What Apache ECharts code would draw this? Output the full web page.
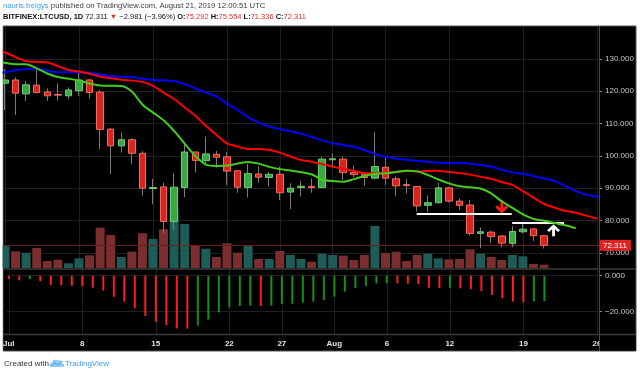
<!DOCTYPE html>
<html><head><meta charset="utf-8">
<script src="https://cdn.jsdelivr.net/npm/echarts@6/dist/echarts.min.js"></script>
<style>html,body{margin:0;padding:0;background:#fff}#c{width:640px;height:374px}</style>
</head><body><div id="c"></div><script>
// ---------- data ----------
const dates = ['2019-07-01','2019-07-02','2019-07-03','2019-07-04','2019-07-05','2019-07-06','2019-07-07','2019-07-08','2019-07-09','2019-07-10',
'2019-07-11','2019-07-12','2019-07-13','2019-07-14','2019-07-15','2019-07-16','2019-07-17','2019-07-18','2019-07-19','2019-07-20',
'2019-07-21','2019-07-22','2019-07-23','2019-07-24','2019-07-25','2019-07-26','2019-07-27','2019-07-28','2019-07-29','2019-07-30',
'2019-07-31','2019-08-01','2019-08-02','2019-08-03','2019-08-04','2019-08-05','2019-08-06','2019-08-07','2019-08-08','2019-08-09',
'2019-08-10','2019-08-11','2019-08-12','2019-08-13','2019-08-14','2019-08-15','2019-08-16','2019-08-17','2019-08-18','2019-08-19',
'2019-08-20','2019-08-21'];
const open = [122.5,123.5,119.2,121.9,119.8,119.0,118.6,120.2,123.5,119.7, 108.3,103.1,105.0,100.8,89.9,90.4,79.7,90.2,101.2,98.5, 100.5,99.7,95.4,90.2,94.4,93.3,94.3,88.8,90.2,90.6, 90.2,98.8,99.0,94.9,94.3,93.1,96.5,92.9,91.1,90.5, 84.7,85.5,90.1,86.0,84.8,76.0,76.4,75.2,72.9,76.5, 77.4,75.292];
const high = [126.8,124.3,123.3,126.6,120.9,122.5,121.2,125.8,123.9,120.4, 108.5,107.2,105.5,101.5,92.9,91.7,94.6,103.7,101.3,106.0, 101.5,101.1,95.5,97.5,96.8,95.0,96.7,91.5,92.2,93.0, 99.8,100.8,99.8,97.0,95.1,107.3,99.6,93.6,92.9,90.6, 87.8,91.7,90.3,86.8,86.4,77.8,76.8,75.5,78.3,79.1, 77.6,75.554];
const low = [114.2,112.7,117.0,119.4,117.0,117.1,117.6,118.5,117.7,102.1, 94.4,101.0,97.4,87.7,85.0,76.0,76.9,87.2,94.8,97.7, 96.4,91.0,88.6,87.1,91.7,90.5,86.3,83.5,87.4,88.6, 90.2,96.2,92.5,93.4,90.7,92.8,91.0,87.6,88.4,82.8, 82.6,85.3,85.6,83.3,75.4,71.4,73.0,71.7,71.7,76.0, 73.7,71.336];
const close = [123.5,119.4,122.0,119.6,118.6,118.8,120.4,123.5,119.6,108.2, 103.1,105.0,100.8,90.0,90.2,79.7,90.3,101.2,98.6,100.6, 99.6,95.3,90.3,94.5,93.4,94.3,88.6,90.0,90.6,90.2, 99.0,99.1,94.8,94.2,93.3,96.7,93.1,90.7,90.8,84.5, 85.5,90.1,86.0,84.7,76.0,76.5,75.0,73.0,76.6,77.3, 75.29,72.311];
const volume = [22.3,16.7,15.3,20.0,7.0,8.3,4.7,9.7,12.7,40.3, 33.0,11.0,16.3,34.7,29.0,38.7,59.0,44.0,22.7,19.3, 11.0,24.7,15.3,22.7,9.0,9.0,17.0,13.0,9.0,6.3, 14.3,13.0,12.3,8.0,13.0,42.0,15.0,16.3,7.0,13.0, 14.3,9.7,8.7,9.0,18.7,14.3,11.0,8.0,13.0,11.7, 4.0,3.3];
const macdHist = [-1.9,-2.6,-1.9,-3.1,-5.2,-5.4,-5.6,-5.9,-6.7,-8.3, -11.7,-14.4,-18.1,-22.4,-25.6,-27.4,-29.3,-29.4,-27.8,-24.4, -20.4,-17.6,-16.8,-16.6,-16.8,-16.6,-15.7,-15.6,-15.0,-14.4, -13.5,-11.7,-8.9,-6.9,-5.7,-4.3,-4.2,-4.3,-4.4,-4.6, -6.7,-6.9,-6.7,-7.0,-7.4,-8.5,-10.7,-12.6,-14.4,-14.8, -14.3,-14.1];
// Alligator lines (already shifted forward), daily values starting at lineStart
const lineStart = '2019-06-30';
const jaw = [125.4,125.9,126.5,126.9,127.0,126.4,125.9,125.9,125.9,125.7, 125.2,124.7,124.5,124.4,123.9,123.5,123.4,123.2,122.2,120.9, 119.6,118.4,116.2,114.2,112.0,110.3,109.1,108.3,107.6,106.9, 105.9,104.8,103.9,103.4,102.8,101.8,100.6,99.7,99.2,98.8, 98.5,98.2,97.9,97.7,97.9,97.6,97.2,96.7,95.7,94.9, 94.4,93.8,93.0,92.2,90.7,89.1,88.0,87.4,86.7];
const teeth = [133.4,132.0,130.6,129.3,129.1,128.9,127.8,126.6,126.1,125.4, 124.5,124.0,123.6,123.3,122.9,121.7,119.6,117.6,115.0,112.4, 109.3,106.5,103.9,102.9,102.1,102.1,101.8,101.0,99.8,98.7, 98.2,97.5,96.7,96.0,95.4,94.6,94.6,94.8,95.0,95.4, 95.2,95.3,95.4,95.0,94.7,94.2,93.5,92.9,91.9,91.0, 89.1,87.1,85.1,84.0,83.0,82.4,81.5,80.6];
const lips = [129.1,128.8,128.4,128.4,127.1,125.5,124.4,123.9,123.3,122.4, 121.8,121.7,121.6,119.9,115.9,113.4,111.0,107.7,103.8,100.0, 97.3,96.9,97.0,97.6,98.1,97.6,96.6,95.9,95.5,95.0, 94.3,92.7,92.2,92.0,92.8,93.8,94.4,94.6,95.0,95.4, 95.2,94.1,92.7,91.5,90.6,90.3,89.9,88.4,85.9,83.9, 81.9,80.5,79.9,79.2,78.5,77.6];
const priceTicks = [70,80,90,100,110,120,130];
const macdTicks = [0,-20];
const xTickDates = ['2019-07-01','2019-07-08','2019-07-15','2019-07-22','2019-07-27','2019-08-01','2019-08-06','2019-08-12','2019-08-19','2019-08-26'];
const xTickLabels = ['Jul','8','15','22','27','Aug','6','12','19','26'];
const lastPrice = 72.311;

// ---------- helpers ----------
const BASE = Date.UTC(2019,5,30);
function dayNum(s){const p=s.split('-').map(Number);return (Date.UTC(p[0],p[1]-1,p[2])-BASE)/86400000;}
const F = 'Liberation Sans, Arial, sans-serif';
const X_MIN = 0.81, X_MAX = 57.2;
const P_MIN = 65.29, P_MAX = 139.9;
const M_MIN = -32.4, M_MAX = 3.15;
const V_MAX = 241;
const xTickVals = xTickDates.map(dayNum);
const gridLine = {show:true, lineStyle:{color:'#202020', width:1}};
const startX = dayNum(lineStart);
const lineData = arr => arr.map((v,i)=>[startX+i, v]);

const wickData = dates.map((d,i)=>[dayNum(d), open[i], close[i], low[i], high[i]]);
const bodyData = dates.map((d,i)=>[dayNum(d), open[i], close[i], Math.min(open[i],close[i]), Math.max(open[i],close[i])]);
const volData = dates.map((d,i)=>({value:[dayNum(d), volume[i]], itemStyle:{color: close[i]>=open[i] ? '#1e5c58' : '#7a2e2f'}}));
const histData = dates.map((d,i)=>({value:[dayNum(d), macdHist[i]], itemStyle:{color: (i>0 && macdHist[i]>macdHist[i-1]) ? '#14901a' : '#ff1e1e'}}));

function xAxis(gi, showLabel){
  return {type:'value', gridIndex:gi, min:X_MIN, max:X_MAX,
    axisLine:{show:false}, axisTick:{show:false, customValues:xTickVals},
    axisLabel:{show:showLabel, customValues:xTickVals, color:'#e6e6e6', fontSize:8, fontWeight:'bold', fontFamily:F, margin:6,
      alignMinLabel:'center', alignMaxLabel:'center', hideOverlap:false,
      formatter:v=>{const i=xTickVals.findIndex(t=>Math.abs(t-v)<0.01);return i>=0?xTickLabels[i]:'';}},
    splitLine: gi===1 ? {show:false} : gridLine};
}
const arrowPath = 'path://M5.5,0 L8.5,0 L8.5,8.5 L11.8,5.2 L14,7.4 L7,14.4 L0,7.4 L2.2,5.2 L5.5,8.5 Z';
const rs = (c,w,s)=>({color:c,fontSize:s,fontFamily:F,fontWeight:w||'normal',lineHeight:10});

const option = {
  animation:false,
  title:[
    {left:3, top:1, padding:0, text:'{u|nauris.treigys}{g| published on TradingView.com, August 21, 2019 12:00:51 UTC}',
     textStyle:{fontWeight:'normal', rich:{u:rs('#3d9fe6','normal',7.7),g:rs('#3a3a3a','normal',7.7)}}},
    {left:3, top:12, padding:0, text:'{k|BITFINEX:LTCUSD, 1D}{n| 72.311 }{r|\u25BC}{n| \u22122.981 (\u22123.96%) }{k|O:}{r|75.292}{k| H:}{r|75.554}{k| L:}{r|71.336}{k| C:}{r|72.311}',
     textStyle:{fontWeight:'normal', rich:{k:rs('#111','bold',7.5),n:rs('#111','normal',7.5),r:rs('#e0302a','normal',7.5)}}}
  ],
  graphic:[
    {type:'rect', z:-100, silent:true, shape:{x:3,y:26,width:633,height:325}, style:{fill:'#000', stroke:'#555', lineWidth:1}},
    {type:'rect', z:200, silent:true, shape:{x:0,y:26,width:2.5,height:326}, style:{fill:'#fff'}},
    {type:'rect', z:100, silent:true, shape:{x:599.5,y:335.5,width:36,height:15}, style:{fill:'#000'}},
    {type:'line', z:101, silent:true, shape:{x1:599.5,y1:26,x2:599.5,y2:351}, style:{stroke:'#4a4a4a', lineWidth:1}},
    {type:'line', z:101, silent:true, shape:{x1:3,y1:269,x2:636,y2:269}, style:{stroke:'#3c3c3c', lineWidth:1.5}},
    {type:'line', z:101, silent:true, shape:{x1:3,y1:334.5,x2:636,y2:334.5}, style:{stroke:'#3c3c3c', lineWidth:1.5}},
    {type:'text', x:4, y:364, style:{text:'Created with', fill:'#333', font:'8px '+F, verticalAlign:'middle'}},
    {type:'polygon', x:49, y:358, shape:{points:[[2,9],[0.5,7.5],[1,5.5],[3,4.5],[4,2.5],[6.5,1.5],[8.5,2.5],[10.5,2],[12.5,3.5],[13,5.2],[15,6],[15,8.5],[13.5,9]]}, style:{fill:'#8ccdf3'}},
    {type:'polyline', x:49, y:358, shape:{points:[[2,8],[6,5],[9,7],[14,3]]}, style:{stroke:'#3d9fe6', lineWidth:1, fill:null}},
    {type:'text', x:65, y:364, style:{text:'TradingView', fill:'#3d9fe6', font:'8px '+F, verticalAlign:'middle'}}
  ],
  grid:[
    {left:3, right:41, top:27, height:241},
    {left:3, right:41, top:27, height:241},
    {left:3, right:41, top:270, height:64}
  ],
  xAxis:[xAxis(0,false), xAxis(1,false), xAxis(2,true)],
  yAxis:[
    {type:'value', gridIndex:0, position:'right', min:P_MIN, max:P_MAX,
     axisLine:{show:false}, axisTick:{show:true, length:3, lineStyle:{color:'#888'}, customValues:priceTicks},
     axisLabel:{customValues:priceTicks, formatter:v=>v.toFixed(3), color:'#c8c8c8', fontSize:8, fontFamily:F, margin:6},
     splitLine:gridLine},
    {type:'value', gridIndex:1, min:0, max:V_MAX, show:false, splitLine:{show:false}},
    {type:'value', gridIndex:2, position:'right', min:M_MIN, max:M_MAX,
     axisLine:{show:false}, axisTick:{show:true, length:3, lineStyle:{color:'#888'}, customValues:macdTicks},
     axisLabel:{customValues:macdTicks, formatter:v=>(v<0?'\u2212':'')+Math.abs(v).toFixed(3), color:'#c8c8c8', fontSize:8, fontFamily:F, margin:6},
     splitLine:gridLine}
  ],
  series:[
    {type:'bar', name:'Volume', xAxisIndex:1, yAxisIndex:1, data:volData, barWidth:9, z:1, clip:true, silent:true},
    {type:'candlestick', name:'wick', xAxisIndex:0, yAxisIndex:0, data:wickData, encode:{x:0,y:[1,2,3,4]}, barWidth:1,
     itemStyle:{color:'#7a7a7a',color0:'#7a7a7a',borderColor:'#7a7a7a',borderColor0:'#7a7a7a',borderWidth:1}, z:3, silent:true},
    {type:'candlestick', name:'LTCUSD', xAxisIndex:0, yAxisIndex:0, data:bodyData, encode:{x:0,y:[1,2,3,4]}, barWidth:7,
     itemStyle:{color:'#3aa845',color0:'#d8241f',borderColor:'#70cc70',borderColor0:'#ef6e60',borderWidth:1}, z:4, silent:true,
     markLine:{silent:true, symbol:'none', z:2, data:[{yAxis:lastPrice}], lineStyle:{color:'#6a1a1a', width:1, type:'solid'},
       label:{show:true, position:'end', distance:0, formatter:lastPrice.toFixed(3), backgroundColor:'#e02424', color:'#fff', padding:[2,4,1,4], fontSize:8, fontFamily:F}}},
    {type:'line', name:'Jaw', xAxisIndex:0, yAxisIndex:0, data:lineData(jaw), showSymbol:false, smooth:0.3, lineStyle:{color:'#0000ff', width:2}, z:5, silent:true},
    {type:'line', name:'Teeth', xAxisIndex:0, yAxisIndex:0, data:lineData(teeth), showSymbol:false, smooth:0.3, lineStyle:{color:'#ff0000', width:2}, z:5, silent:true},
    {type:'line', name:'Lips', xAxisIndex:0, yAxisIndex:0, data:lineData(lips), showSymbol:false, smooth:0.3, lineStyle:{color:'#46cc1e', width:2}, z:5, silent:true,
     markLine:{silent:true, symbol:'none', label:{show:false}, lineStyle:{color:'#ffffff', width:2, type:'solid'},
       data:[[{coord:[39.95,82.06]},{coord:[48.94,82.06]}],[{coord:[48.99,79.37]},{coord:[53.88,79.37]}]]},
     markPoint:{silent:true, label:{show:false}, data:[
       {coord:[48.0,84.17], symbol:arrowPath, symbolSize:[13,13], itemStyle:{color:'#ff1a1a'}},
       {coord:[52.9,76.95], symbol:arrowPath, symbolSize:[13,12], symbolRotate:180, itemStyle:{color:'#ffffff'}}]}},
    {type:'bar', name:'MACD Histogram', xAxisIndex:2, yAxisIndex:2, data:histData, barWidth:2, clip:true, silent:true}
  ]
};
const chart = echarts.init(document.getElementById('c'));
chart.setOption(option);
</script></body></html>
